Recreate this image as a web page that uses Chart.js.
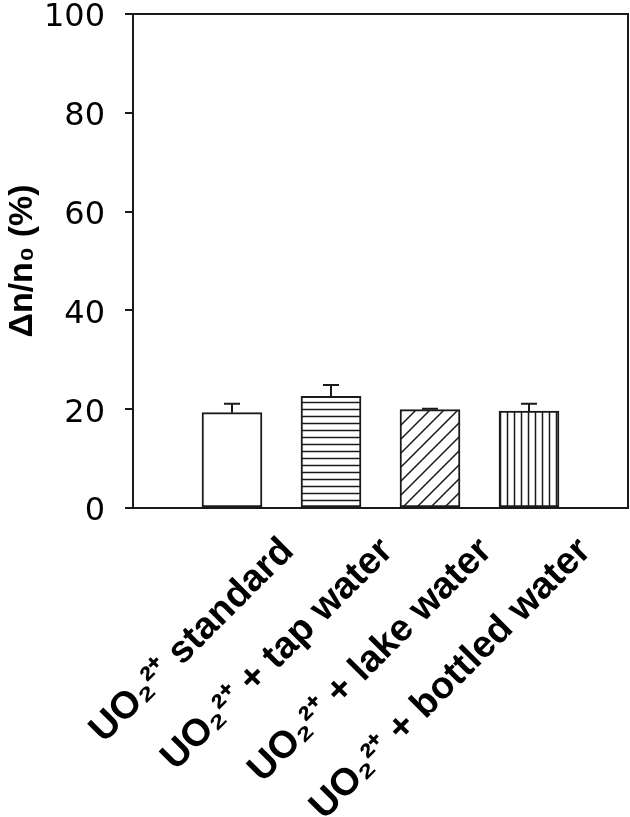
<!DOCTYPE html>
<html>
<head>
<meta charset="utf-8">
<script src="https://cdn.jsdelivr.net/npm/chart.js@4.4.0/dist/chart.umd.min.js"></script>
<style>
  html, body { margin: 0; padding: 0; background: #fff; }
  #wrap { width: 630px; height: 817px; }
</style>
</head>
<body>
<div id="wrap"><canvas id="chart" width="630" height="817"></canvas></div>
<script>
// Data
const categories = ["UO₂²⁺ standard", "UO₂²⁺ + tap water", "UO₂²⁺ + lake water", "UO₂²⁺ + bottled water"];
const positions = [1, 2, 3, 4];
const values = [19.3, 22.6, 19.9, 19.6];
const errors = [1.8, 2.3, 0.2, 1.5];
const yTicks = [0, 20, 40, 60, 80, 100];
const fills = ["none", "horizontal", "diagonal", "vertical"];

const FONT = "'Liberation Sans', Arial, sans-serif";
const NUM_FONT = "'DejaVu Sans', 'Liberation Sans', sans-serif";
const INK = "#1a1a1a";

// Hatch patterns for the bars
const makePattern = (kind) => {
  if (kind === "none") return "#ffffff";
  const size = kind === "diagonal" ? 14 : 7;
  const c = document.createElement("canvas");
  c.width = size;
  c.height = size;
  const g = c.getContext("2d");
  g.fillStyle = "#ffffff";
  g.fillRect(0, 0, size, size);
  g.strokeStyle = INK;
  g.lineWidth = 1.5;
  g.beginPath();
  if (kind === "horizontal") {
    g.moveTo(0, 3.5);
    g.lineTo(size, 3.5);
  } else if (kind === "vertical") {
    g.moveTo(3.5, 0);
    g.lineTo(3.5, size);
  } else {
    g.moveTo(0, size);
    g.lineTo(size, 0);
    g.moveTo(-2, 2);
    g.lineTo(2, -2);
    g.moveTo(size - 2, size + 2);
    g.lineTo(size + 2, size - 2);
  }
  g.stroke();
  return g.createPattern(c, "repeat");
};

// Upward error bars + closed frame
const extrasPlugin = {
  id: "extras",
  afterDatasetsDraw(chart) {
    const { ctx, scales } = chart;
    ctx.save();
    ctx.strokeStyle = INK;
    ctx.lineWidth = 2;
    positions.forEach((p, i) => {
      const x = scales.x.getPixelForValue(p);
      const yBar = scales.y.getPixelForValue(values[i]);
      const yTop = scales.y.getPixelForValue(values[i] + errors[i]);
      ctx.beginPath();
      ctx.moveTo(x, yBar);
      ctx.lineTo(x, yTop);
      ctx.moveTo(x - 8, yTop);
      ctx.lineTo(x + 8, yTop);
      ctx.stroke();
    });
    const a = chart.chartArea;
    ctx.beginPath();
    ctx.moveTo(a.left, a.top);
    ctx.lineTo(a.right, a.top);
    ctx.lineTo(a.right, a.bottom);
    ctx.stroke();
    ctx.restore();
  },
};

// keep the plot box where the reference has it
const noOverflow = (scale) => {
  scale.paddingTop = 0;
  scale.paddingBottom = 0;
  scale.paddingLeft = 0;
  scale.paddingRight = 0;
};

const ctx = document.getElementById("chart").getContext("2d");
new Chart(ctx, {
  type: "bar",
  data: {
    datasets: [
      {
        data: positions.map((p, i) => ({ x: p, y: values[i] })),
        backgroundColor: fills.map(makePattern),
        borderColor: INK,
        borderWidth: 2,
        borderSkipped: false,
        barThickness: 60,
      },
    ],
  },
  options: {
    responsive: false,
    animation: false,
    layout: { padding: { top: 14, right: 2, left: 0, bottom: 0 } },
    plugins: { legend: { display: false }, tooltip: { enabled: false } },
    scales: {
      x: {
        type: "linear",
        min: 0,
        max: 5,
        offset: false,
        grid: { display: false },
        border: { color: INK, width: 2 },
        afterBuildTicks: (scale) => {
          scale.ticks = positions.map((p) => ({ value: p }));
        },
        afterFit: (scale) => {
          scale.height = 309;
          noOverflow(scale);
        },
        ticks: {
          autoSkip: false,
          minRotation: 45,
          maxRotation: 45,
          labelOffset: 56,
          padding: 13,
          color: "#000",
          font: { family: FONT, size: 38, weight: "bold" },
          callback: (v) => categories[positions.indexOf(v)] || "",
        },
      },
      y: {
        min: 0,
        max: 100,
        grid: { drawOnChartArea: false, drawTicks: true, tickLength: 8, color: INK, lineWidth: 2 },
        border: { color: INK, width: 2 },
        afterBuildTicks: (scale) => {
          scale.ticks = yTicks.map((v) => ({ value: v }));
        },
        afterFit: (scale) => {
          scale.width = 133;
          noOverflow(scale);
        },
        ticks: {
          padding: 20,
          labelOffset: 4,
          color: "#000",
          font: { family: NUM_FONT, size: 32, lineHeight: 0.6 },
        },
        title: {
          display: true,
          text: "Δn/n₀ (%)",
          color: "#000",
          padding: { top: 2, bottom: 0 },
          font: { family: FONT, size: 34, weight: "bold" },
        },
      },
    },
  },
  plugins: [extrasPlugin],
});
</script>
</body>
</html>
